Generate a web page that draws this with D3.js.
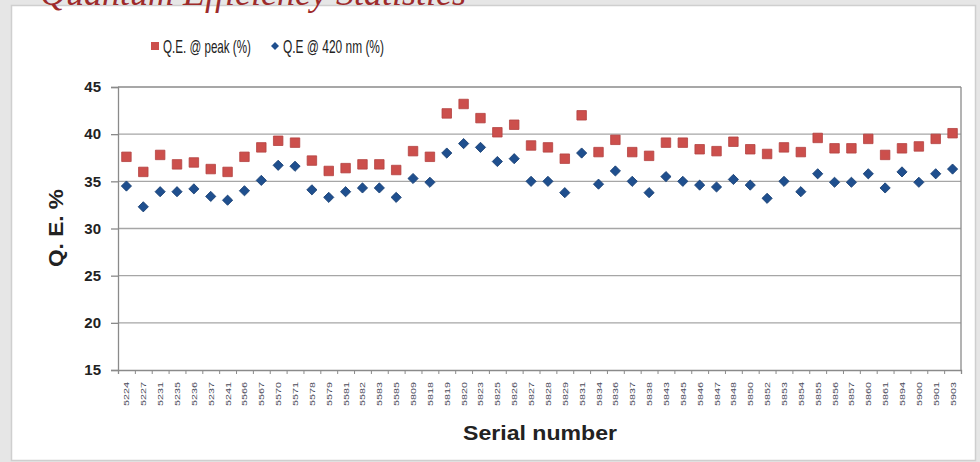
<!DOCTYPE html>
<html><head><meta charset="utf-8">
<script src="https://cdn.jsdelivr.net/npm/d3@7"></script>
<style>
html,body{margin:0;padding:0;background:#e6e6e6;}
svg{display:block;}
</style></head>
<body>
<svg id="c" width="980" height="462"></svg>
<script>
const serials = ["5224","5227","5231","5235","5236","5237","5241","5566","5567","5570","5571","5578","5579","5581","5582","5583","5585","5809","5818","5819","5820","5823","5825","5826","5827","5828","5829","5831","5834","5836","5837","5838","5843","5845","5846","5847","5848","5850","5852","5853","5854","5855","5856","5857","5860","5861","5894","5900","5901","5903"];
const qePeak = [37.6,36.0,37.8,36.8,37.0,36.3,36.0,37.6,38.6,39.3,39.1,37.2,36.1,36.4,36.8,36.8,36.2,38.2,37.6,42.2,43.2,41.7,40.2,41.0,38.8,38.6,37.4,42.0,38.1,39.4,38.1,37.7,39.1,39.1,38.4,38.2,39.2,38.4,37.9,38.6,38.1,39.6,38.5,38.5,39.5,37.8,38.5,38.7,39.5,40.1];
const qe420 = [34.5,32.3,33.9,33.9,34.2,33.4,33.0,34.0,35.1,36.7,36.6,34.1,33.3,33.9,34.3,34.3,33.3,35.3,34.9,38.0,39.0,38.6,37.1,37.4,35.0,35.0,33.8,38.0,34.7,36.1,35.0,33.8,35.5,35.0,34.6,34.4,35.2,34.6,33.2,35.0,33.9,35.8,34.9,34.9,35.8,34.3,36.0,34.9,35.8,36.3];
const yTicks = [15,20,25,30,35,40,45];
const legendLabels = ["Q.E. @ peak (%)", "Q.E @ 420 nm (%)"];
const titleText = "Quantum Efficiency Statistics";

const svg = d3.select("#c");
// squeeze a text horizontally (in its own frame) to a target width
function fit(g, text, width){
  const n = text.node().getComputedTextLength();
  text.attr("transform", `scale(${width/n},1)`);
}

svg.append("rect").attr("x",11.5).attr("y",5.5).attr("width",964).attr("height",455)
  .attr("fill","#fff").attr("stroke","#cfcfcf").attr("stroke-width",1.5);
svg.append("text").attr("x",40).attr("y",5).attr("font-family","Liberation Serif")
  .attr("font-style","italic").attr("font-size",36).attr("fill","#9e2b2b").text(titleText);

const L=118, R=961, T=87, B=370;
const x = d3.scaleBand().domain(serials).range([L,R]).padding(0);
const xi = d3.scaleLinear().domain([0,serials.length]).range([L,R]);
const y = d3.scaleLinear().domain([15,45]).range([B,T]);

svg.append("g").selectAll("line").data(yTicks.filter(d=>d>15)).join("line")
  .attr("x1",L).attr("x2",R).attr("y1",d=>y(d)).attr("y2",d=>y(d))
  .attr("stroke",d=>d===45?"#8a8a8a":"#a6a6a6").attr("stroke-width",1.3);
svg.append("line").attr("x1",R).attr("x2",R).attr("y1",T).attr("y2",B).attr("stroke","#8a8a8a").attr("stroke-width",1.3);

const ya = svg.append("g").attr("transform",`translate(${L},0)`)
  .call(d3.axisLeft(y).tickValues(yTicks).tickSize(7).tickPadding(10).tickFormat(d3.format("d")));
ya.select(".domain").attr("stroke","#8a8a8a").attr("stroke-width",1.3);
ya.selectAll(".tick line").attr("stroke","#8a8a8a").attr("stroke-width",1.3);
ya.selectAll("text").attr("font-family","Liberation Sans").attr("font-weight","bold").attr("font-size",15).attr("fill","#222");

const xa = svg.append("g").attr("transform",`translate(0,${B})`)
  .call(d3.axisBottom(xi).tickValues(d3.range(serials.length+1)).tickSize(4).tickFormat(""));
xa.select(".domain").attr("stroke","#8a8a8a").attr("stroke-width",1.3);
xa.selectAll(".tick line").attr("stroke","#8a8a8a");
svg.append("g").selectAll("g").data(serials).join("g")
  .attr("transform",d=>`translate(${x(d)+x.bandwidth()/2+3},382) rotate(-90)`)
  .each(function(d){
    const g = d3.select(this);
    const t = g.append("text").attr("text-anchor","end").attr("font-family","Liberation Sans")
      .attr("font-size",8).attr("fill","#4a4a5a").text(d);
    fit(g, t, 24);
  });

// axis titles
{
  const g = svg.append("g").attr("transform","translate(63,228) rotate(-90)");
  const t = g.append("text").attr("text-anchor","middle").attr("font-family","Liberation Sans")
    .attr("font-weight","bold").attr("font-size",20).attr("fill","#222").text("Q. E. %");
  fit(g, t, 78);
  const g2 = svg.append("g").attr("transform","translate(540,440)");
  const t2 = g2.append("text").attr("text-anchor","middle").attr("font-family","Liberation Sans")
    .attr("font-weight","bold").attr("font-size",20).attr("fill","#222").text("Serial number");
  fit(g2, t2, 154);
}

const sq = d3.symbol().type(d3.symbolSquare).size(90);
const dm = d3.symbol().type(d3.symbolSquare).size(52);
svg.append("g").selectAll("path").data(serials).join("path")
  .attr("transform",(d,i)=>`translate(${x(d)+x.bandwidth()/2},${y(qePeak[i])})`)
  .attr("d",sq).attr("fill","#cc4f4c").attr("stroke","#b44341").attr("stroke-width",0.8);
svg.append("g").selectAll("path").data(serials).join("path")
  .attr("transform",(d,i)=>`translate(${x(d)+x.bandwidth()/2},${y(qe420[i])}) rotate(45)`)
  .attr("d",dm).attr("fill","#1f4f8e").attr("stroke","#183f73").attr("stroke-width",0.8);

// legend
const lg = svg.append("g");
lg.append("path").attr("transform","translate(155,46)").attr("d",d3.symbol().type(d3.symbolSquare).size(64)).attr("fill","#cc4f4c");
lg.append("path").attr("transform","translate(275,46) rotate(45)").attr("d",d3.symbol().type(d3.symbolSquare).size(32)).attr("fill","#1f4f8e");
[[163,88],[283,101]].forEach(([lx,w],i)=>{
  const g = lg.append("g").attr("transform",`translate(${lx},53)`);
  const t = g.append("text").attr("font-family","Liberation Sans").attr("font-size",19)
    .attr("fill","#222").text(legendLabels[i]);
  fit(g, t, w);
});
</script>
</body></html>
